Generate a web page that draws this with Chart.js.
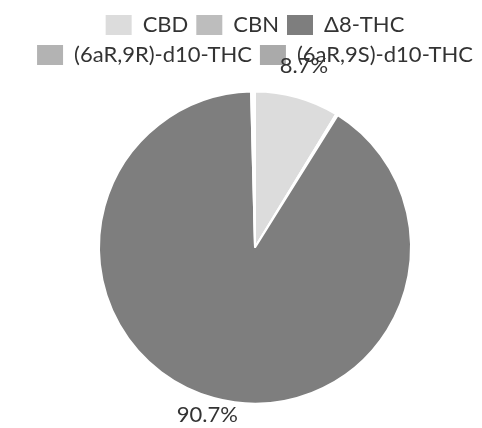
<!DOCTYPE html>
<html>
<head>
<meta charset="utf-8">
<script src="https://cdn.jsdelivr.net/npm/chart.js@4.4.0/dist/chart.umd.min.js"></script>
<style>
  html, body { margin: 0; padding: 0; background: #fff; }
  #wrap { width: 482px; height: 428px; }
</style>
</head>
<body>
<div id="wrap"><canvas id="pieChart"></canvas></div>
<script>
const categories = ['CBD', 'CBN', 'Δ8-THC', '(6aR,9R)-d10-THC', '(6aR,9S)-d10-THC'];
const shares = [8.7, 0.2, 90.7, 0.2, 0.2];
const sliceColors = ['#dcdcdc', '#bdbdbd', '#7e7e7e', '#b3b3b3', '#aaaaaa'];

// etiquettes en % au bord exterieur des parts
const outerLabels = {
    id: 'outerLabels',
    afterDatasetsDraw(chart) {
        const ctx = chart.ctx;
        const meta = chart.getDatasetMeta(0);
        ctx.save();
        ctx.font = '22px Lato';
        ctx.fillStyle = '#333';
        ctx.textAlign = 'center';
        ctx.textBaseline = 'alphabetic';
        meta.data.forEach((arc, i) => {
            if (shares[i] < 5) return;
            const p = arc.getProps(['x', 'y', 'startAngle', 'endAngle', 'outerRadius'], true);
            const mid = (p.startAngle + p.endAngle) / 2;
            const d = p.outerRadius + 25;
            ctx.fillText(shares[i].toFixed(1) + '%', p.x + Math.cos(mid) * d, p.y + Math.sin(mid) * d);
        });
        ctx.restore();
    }
};

const ctx = document.getElementById('pieChart').getContext('2d');
new Chart(ctx, {
    type: 'pie',
    data: {
        labels: categories,
        datasets: [{
            data: shares,
            backgroundColor: sliceColors,
            borderColor: '#fff',
            borderWidth: 2,
            radius: 156
        }]
    },
    options: {
        responsive: true,
        maintainAspectRatio: false,
        animation: false,
        layout: { padding: { left: 28, right: 0, top: 6, bottom: 9 } },
        plugins: {
            legend: {
                position: 'top',
                labels: {
                    font: { family: 'Lato', size: 22 },
                    color: '#333',
                    boxWidth: 26,
                    boxHeight: 20,
                    padding: 8,
                    generateLabels(chart) {
                        const items = Chart.overrides.pie.plugins.legend.labels.generateLabels(chart);
                        items.forEach(it => it.lineWidth = 0);
                        return items;
                    }
                }
            },
            tooltip: { enabled: false }
        }
    },
    plugins: [outerLabels]
});
</script>
</body>
</html>
